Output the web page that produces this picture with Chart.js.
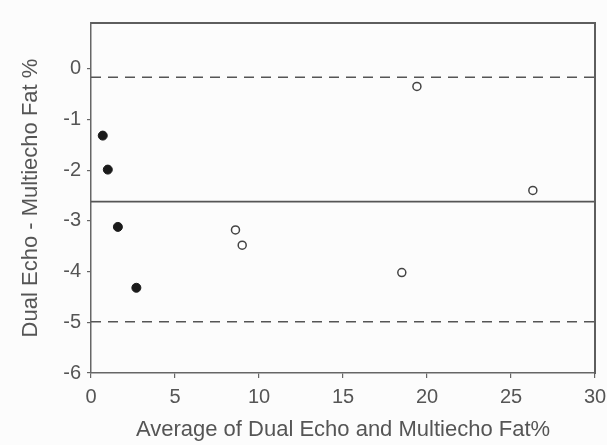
<!DOCTYPE html>
<html>
<head>
<meta charset="utf-8">
<script src="https://cdn.jsdelivr.net/npm/chart.js@4"></script>
<style>
  html, body { margin: 0; padding: 0; background: #fcfcfc; overflow: hidden; }
  #wrap { width: 607px; height: 445px; }
</style>
</head>
<body>
<div id="wrap"><canvas id="myChart"></canvas></div>
<script>
// filled dots and open circles (average, difference)
var filledX = [0.7, 1.0, 1.6, 2.7];
var filledY = [-1.32, -1.99, -3.12, -4.32];
var openX = [8.6, 9.0, 18.5, 19.4, 26.3];
var openY = [-3.18, -3.48, -4.02, -0.35, -2.40];
// mean difference and limits of agreement
var meanDiff = -2.62;
var upperLimit = -0.17;
var lowerLimit = -4.99;
var xRange = [0, 30];
var xTicks = [0, 5, 10, 15, 20, 25, 30];
var yTicks = [-6, -5, -4, -3, -2, -1, 0];

var ink = '#555555';

function pts(xs, ys) {
  return xs.map(function(x, i) { return { x: x, y: ys[i] }; });
}
function hline(v) {
  return xRange.map(function(x) { return { x: x, y: v }; });
}

// close the box on top / right
var frame = {
  id: 'frame',
  afterDraw: function(chart) {
    var a = chart.chartArea, c = chart.ctx;
    c.save();
    c.fillStyle = '#5e5e5e';
    c.fillRect(a.left, a.top - 1, a.right - a.left + 1, 2);
    c.fillRect(a.right - 1, a.top - 1, 2, a.bottom - a.top + 2);
    c.restore();
  }
};

Chart.defaults.font.family = '"Liberation Sans", Arial, sans-serif';
Chart.defaults.color = ink;

new Chart(document.getElementById('myChart'), {
  type: 'scatter',
  data: {
    datasets: [
      {
        data: hline(meanDiff), showLine: true, pointRadius: 0,
        borderColor: '#555', borderWidth: 1.8
      },
      {
        data: hline(upperLimit), showLine: true, pointRadius: 0,
        borderColor: '#555', borderWidth: 1.5, borderDash: [10, 7]
      },
      {
        data: hline(lowerLimit), showLine: true, pointRadius: 0,
        borderColor: '#555', borderWidth: 1.5, borderDash: [10, 7]
      },
      {
        data: pts(filledX, filledY), pointRadius: 4.5,
        backgroundColor: '#1a1a1a', borderColor: '#1a1a1a', borderWidth: 1
      },
      {
        data: pts(openX, openY), pointRadius: 4,
        backgroundColor: '#ffffff', borderColor: '#444', borderWidth: 1.5
      }
    ]
  },
  options: {
    responsive: true,
    maintainAspectRatio: false,
    animation: false,
    layout: { padding: { left: 0, right: 12, top: 23, bottom: 0 } },
    plugins: {
      legend: { display: false },
      tooltip: { enabled: false }
    },
    scales: {
      x: {
        type: 'linear', min: 0, max: 30,
        afterBuildTicks: function(s) { s.ticks = xTicks.map(function(v) { return { value: v }; }); },
        afterFit: function(s) { s.height = 72; s.paddingRight = 0; s.paddingLeft = 0; },
        grid: { drawOnChartArea: false, tickLength: 5, color: '#666', lineWidth: 1.2 },
        border: { display: true, color: '#666', width: 1.5 },
        ticks: { font: { size: 20 }, padding: 7, maxRotation: 0 },
        title: { display: true, text: 'Average of Dual Echo and Multiecho Fat%', font: { size: 22 }, padding: { top: 0, bottom: 2 } }
      },
      y: {
        type: 'linear', min: -6, max: 0.9,
        afterBuildTicks: function(s) { s.ticks = yTicks.map(function(v) { return { value: v }; }); },
        afterFit: function(s) { s.width = 91; },
        grid: { drawOnChartArea: false, tickLength: 4, color: '#666', lineWidth: 1.2 },
        border: { display: true, color: '#666', width: 1.5 },
        ticks: { font: { size: 20 }, padding: 6 },
        title: { display: true, text: 'Dual Echo - Multiecho Fat %', font: { size: 22 }, padding: { top: 18, bottom: 0 } }
      }
    }
  },
  plugins: [frame]
});
</script>
</body>
</html>
